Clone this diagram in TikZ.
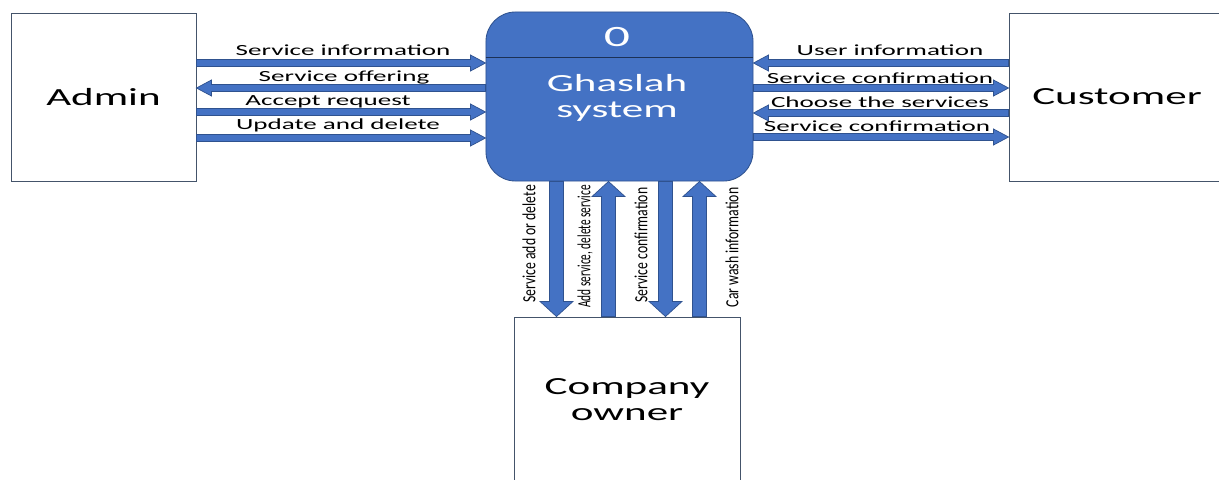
\documentclass[tikz,border=0pt]{standalone}
\usepackage{fontspec}
\setmainfont{Carlito}[FakeStretch=1.75]
\newfontfamily\narrowfont{Carlito}[FakeStretch=0.74]
\newfontfamily\narrowerfont{Carlito}[FakeStretch=0.61]
\usetikzlibrary{calc}
\definecolor{flowfill}{HTML}{4472C4}
\definecolor{flowedge}{HTML}{2F528F}
\definecolor{boxedge}{HTML}{44546A}
\tikzset{
  flow/.style 2 args={draw=flowedge, fill=flowfill, line width=0.5pt,
    to path={let \p1=($(\tikztotarget)!10.7pt!(\tikztostart)$) in
      ($(\tikztostart)!#1!90:(\tikztotarget)$)
      -- ($(\p1)!#1!-90:(\tikztostart)$)
      -- ($(\p1)!#2!-90:(\tikztostart)$)
      -- (\tikztotarget)
      -- ($(\p1)!#2!90:(\tikztostart)$)
      -- ($(\p1)!#1!90:(\tikztostart)$)
      -- ($(\tikztostart)!#1!-90:(\tikztotarget)$)
      -- cycle}},
  hflow/.style={flow={2.5pt}{5.7pt}},
  vflow/.style={flow={5pt}{11.7pt}},
  entity/.style={draw=boxedge, line width=0.6pt, fill=white, align=center,
    font=\fontsize{17.5}{18.5}\selectfont, inner sep=0pt},
  lab/.style={font=\fontsize{11}{12}\selectfont, inner sep=0pt},
  vlab/.style={font=\narrowfont\fontsize{13.2}{14}\selectfont, rotate=90, inner sep=0pt},
}
\begin{document}
\begin{tikzpicture}[x=0.025cm, y=-0.025cm]
\useasboundingbox (0,0) rectangle (1219,480);

% external entities
\node[entity, minimum width=4.625cm, minimum height=4.2cm] (admin) at (103.5,97) {Admin};
\node[entity, minimum width=5.4cm, minimum height=4.2cm] (cust) at (1117,97) {Customer};
\node[entity, minimum width=5.65cm, minimum height=4.15cm] (comp) at (627,400) {Company\\owner};

% process
\node[draw=flowedge, fill=flowfill, line width=0.6pt, rounded corners=21pt,
  minimum width=6.675cm, minimum height=4.225cm] (sys) at (619.5,96.5) {};
\draw[flowedge!60!black, line width=0.6pt] (sys.west |- 0,57) -- (sys.east |- 0,57);
\node[white, font=\fontsize{21}{22}\selectfont, inner sep=0pt] (sysnum) at (617,37) {0};
\node[white, align=center, font=\fontsize{17.5}{18.5}\selectfont, inner sep=0pt] (sysname) at (617,98) {Ghaslah\\system};

% admin flows
\draw[hflow] (admin.east |- 0,63) to (sys.west |- 0,63);
\draw[hflow] (sys.west |- 0,88) to (admin.east |- 0,88);
\draw[hflow] (admin.east |- 0,112) to (sys.west |- 0,112);
\draw[hflow] (admin.east |- 0,138) to (sys.west |- 0,138);
\node[lab] (l1) at (343,50) {Service information};
\node[lab] (l2) at (344,77) {Service offering};
\node[lab] (l3) at (328,102) {Accept request};
\node[lab] (l4) at (338,125) {Update and delete};

% customer flows
\draw[hflow] (cust.west |- 0,63) to (sys.east |- 0,63);
\draw[hflow] (sys.east |- 0,88) to (cust.west |- 0,88);
\draw[hflow] (cust.west |- 0,113) to (sys.east |- 0,113);
\draw[hflow] (sys.east |- 0,137) to (cust.west |- 0,137);
\node[lab] (r1) at (890,50) {User information};
\node[lab] (r2) at (880,78) {Service confirmation};
\node[lab] (r3) at (880,102) {Choose the services};
\node[lab] (r4) at (877,126) {Service confirmation};

% company owner flows
\draw[vflow] (sys.south -| 556.5,0) to (comp.north -| 556.5,0);
\draw[vflow] (comp.north -| 608.5,0) to (sys.south -| 608.5,0);
\draw[vflow] (sys.south -| 665.5,0) to (comp.north -| 665.5,0);
\draw[vflow] (comp.north -| 699.5,0) to (sys.south -| 699.5,0);
\node[vlab] (b1) at (529,244) {Service add or delete};
\node[vlab, font=\narrowerfont\fontsize{13.2}{14}\selectfont] (b2) at (585,246.5) {Add service, delete service};
\node[vlab] (b3) at (641,245) {Service confirmation};
\node[vlab] (b4) at (732,247.5) {Car wash information};
\end{tikzpicture}
\end{document}
